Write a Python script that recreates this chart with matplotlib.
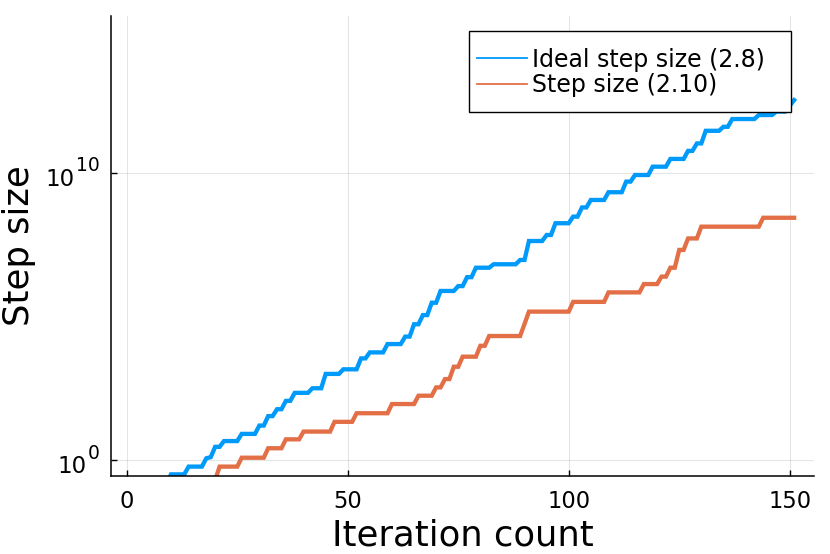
import numpy as np
import matplotlib
matplotlib.use("Agg")
import matplotlib.pyplot as plt
from matplotlib.lines import Line2D
from matplotlib.patches import Rectangle

# Corner points of the two staircase curves: iteration and log10(step size)
ideal_iter = [9, 10, 13, 14, 17, 18, 19, 20, 21, 22, 25, 26, 29, 30, 31, 32, 33, 34, 35, 36,
              37, 38, 41, 42, 44, 45, 48, 49, 52, 53, 54, 55, 58, 59, 62, 63, 64, 65, 66, 67,
              68, 69, 70, 71, 74, 75, 76, 77, 78, 79, 82, 83, 88, 89, 90, 91, 94, 95, 96, 97,
              100, 101, 102, 103, 104, 105, 108, 109, 112, 113, 114, 115, 118, 119, 122, 123,
              126, 127, 128, 129, 130, 131, 134, 135, 136, 137, 142, 143, 146, 147, 149, 151]
ideal_log10 = [-0.87, -0.50, -0.50, -0.23, -0.23, 0.06, 0.10, 0.46, 0.46, 0.66, 0.66, 0.91,
               0.91, 1.20, 1.20, 1.53, 1.53, 1.77, 1.77, 2.06, 2.06, 2.34, 2.34, 2.50, 2.50,
               3.00, 3.00, 3.16, 3.16, 3.54, 3.54, 3.75, 3.75, 4.04, 4.04, 4.30, 4.30, 4.73,
               4.73, 5.05, 5.05, 5.48, 5.48, 5.89, 5.89, 6.06, 6.06, 6.37, 6.37, 6.70, 6.70,
               6.82, 6.82, 6.97, 6.97, 7.63, 7.63, 7.84, 7.84, 8.25, 8.25, 8.48, 8.48, 8.80,
               8.80, 9.06, 9.06, 9.33, 9.33, 9.70, 9.70, 9.93, 9.93, 10.22, 10.22, 10.49,
               10.49, 10.77, 10.77, 11.03, 11.03, 11.47, 11.47, 11.61, 11.61, 11.88, 11.88,
               12.02, 12.02, 12.14, 12.14, 12.54]

step_iter = [20, 21, 25, 26, 31, 32, 35, 36, 39, 40, 46, 47, 51, 52, 59, 60, 65, 66, 69, 70,
             71, 72, 73, 74, 75, 76, 79, 80, 81, 82, 89, 90, 91, 100, 101, 108, 109, 116, 117,
             120, 121, 122, 123, 124, 125, 126, 127, 129, 130, 143, 144, 151]
step_log10 = [-0.70, -0.23, -0.23, 0.08, 0.08, 0.41, 0.41, 0.72, 0.72, 0.99, 0.99, 1.33,
              1.33, 1.63, 1.63, 1.95, 1.95, 2.24, 2.24, 2.53, 2.53, 2.82, 2.82, 3.25, 3.25,
              3.60, 3.60, 3.98, 3.98, 4.32, 4.32, 4.74, 5.17, 5.17, 5.51, 5.51, 5.84, 5.84,
              6.13, 6.13, 6.39, 6.39, 6.70, 6.70, 7.32, 7.32, 7.72, 7.72, 8.13, 8.13, 8.44, 8.44]

labels = ["Ideal step size (2.8)", "Step size (2.10)"]
colors = ["#009AFA", "#E36F47"]
x_ticks = [0, 50, 100, 150]
y_tick_exponents = [0, 10]

W, H = 830, 554
fig = plt.figure(figsize=(W / 100, H / 100), dpi=100)
ax_l, ax_r, ax_t, ax_b = 111.3, 814.0, 16.0, 476.0
ax = fig.add_axes([ax_l / W, 1 - ax_b / H, (ax_r - ax_l) / W, (ax_b - ax_t) / H])

ax.plot(ideal_iter, 10.0 ** np.array(ideal_log10), color=colors[0], lw=3.1,
        solid_joinstyle="miter", zorder=2)
ax.plot(step_iter, 10.0 ** np.array(step_log10), color=colors[1], lw=3.1,
        solid_joinstyle="miter", zorder=2)

ax.set_yscale("log")
ax.set_xlim(-3.5, 155.5)
ax.set_ylim(10 ** -0.557, 10 ** 15.47)
ax.set_xticks(x_ticks)
ax.set_yticks([10.0 ** e for e in y_tick_exponents])
ax.yaxis.set_minor_locator(matplotlib.ticker.NullLocator())

ax.grid(True, color="black", alpha=0.1, lw=0.8)
for s in ["top", "right"]:
    ax.spines[s].set_visible(False)
for s in ["left", "bottom"]:
    ax.spines[s].set_linewidth(1.1)
ax.tick_params(direction="in", length=4.5, width=1.0, labelsize=16.3)
ax.tick_params(axis="x", pad=10)
ax.tick_params(axis="y", labelleft=False)

# y tick labels drawn as base + superscript
base_fs, sup_fs = 16.5, 13.5
sup_px = sup_fs * 100 / 72
ytrans = ax.get_yaxis_transform()
for e in y_tick_exponents:
    v = 10.0 ** e
    s = str(e)
    ax.annotate(s, xy=(0, v), xycoords=ytrans, xytext=(-11.8, 1.5),
                textcoords="offset pixels", ha="right", va="baseline",
                fontsize=sup_fs, annotation_clip=False)
    sup_w = len(s) * 0.636 * sup_px
    ax.annotate("10", xy=(0, v), xycoords=ytrans, xytext=(-11.8 - sup_w - 1.5, -12.7),
                textcoords="offset pixels", ha="right", va="baseline",
                fontsize=base_fs, annotation_clip=False)

ax.set_xlabel("Iteration count", fontsize=25.5)
ax.set_ylabel("Step size", fontsize=25.5)
ax.xaxis.set_label_coords(0.5, (ax_b - 518.5) / (ax_b - ax_t))
ax.yaxis.set_label_coords((35.5 - ax_l) / (ax_r - ax_l), 0.5)

# legend: frame drawn as a rectangle, entries placed inside it
frame = Rectangle((469 / W, 1 - 112.3 / H), (790.7 - 469) / W, (112.3 - 31) / H,
                  transform=fig.transFigure, facecolor="white", edgecolor="black",
                  lw=1.0, zorder=4.9, clip_on=False)
ax.add_patch(frame)
leg_fs = 17
leg_px = leg_fs * 100 / 72
handles = [Line2D([], [], color=c, lw=1.3) for c in colors]
leg = ax.legend(handles, labels, loc="upper left",
                bbox_to_anchor=(477.3 / W, 1 - 47.5 / H), bbox_transform=fig.transFigure,
                borderaxespad=0, borderpad=0, fontsize=leg_fs, frameon=False,
                handlelength=50 / leg_px, handletextpad=5 / leg_px, labelspacing=0.08)
leg.set_zorder(5)

fig.savefig("out.png", dpi=100)
